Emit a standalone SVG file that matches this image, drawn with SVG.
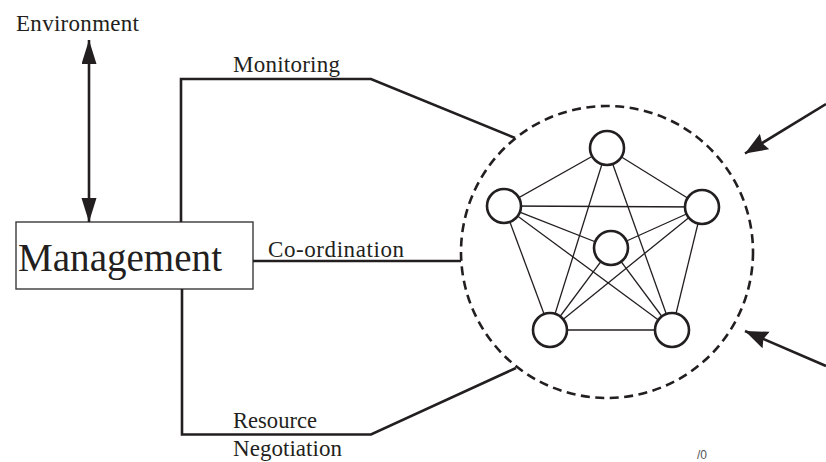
<svg xmlns="http://www.w3.org/2000/svg" width="826" height="462" viewBox="0 0 826 462">
  <style>
    .lbl { font-family: "Liberation Serif", "Times New Roman", serif; fill: #231f20; }
    .conn { fill: none; stroke: #231f20; stroke-width: 2.6; }
    .edge { stroke: #231f20; stroke-width: 1.3; }
    .node { fill: #ffffff; stroke: #231f20; stroke-width: 2.6; }
  </style>
  <defs>
    <marker id="ah" markerUnits="userSpaceOnUse" markerWidth="26" markerHeight="16" refX="24" refY="7.5" orient="auto-start-reverse">
      <path d="M0,0 L24,7.5 L0,15 Z" fill="#231f20"/>
    </marker>
    <marker id="ah2" markerUnits="userSpaceOnUse" markerWidth="26" markerHeight="20" refX="23" refY="9" orient="auto">
      <path d="M0,0 L23,9 L0,18 L3,9 Z" fill="#231f20"/>
    </marker>
  </defs>
  <rect width="826" height="462" fill="#ffffff"/>

  <g id="environment">
    <text class="lbl" x="16" y="30.5" font-size="23" textLength="123" lengthAdjust="spacing">Environment</text>
  </g>

  <g id="management">
    <rect x="16" y="222" width="237" height="67" fill="#ffffff" stroke="#3a3a3a" stroke-width="1.4"/>
    <text class="lbl" x="18" y="271" font-size="39" textLength="204" lengthAdjust="spacingAndGlyphs">Management</text>
  </g>

  <g id="connectors">
    <line class="conn" x1="89" y1="40" x2="89" y2="222" marker-start="url(#ah)" marker-end="url(#ah)"/>
    <path class="conn" d="M181,222 V79 H371 L515,138"/>
    <path class="conn" d="M253,261 H461"/>
    <path class="conn" d="M182,289 V434.5 H371 L516,368"/>
    <line class="conn" x1="826" y1="104" x2="745" y2="153.5" marker-end="url(#ah2)"/>
    <line class="conn" x1="826" y1="366" x2="745" y2="331" marker-end="url(#ah2)"/>
    <text class="lbl" x="233" y="71.5" font-size="23" textLength="107" lengthAdjust="spacing">Monitoring</text>
    <text class="lbl" x="268" y="256.5" font-size="23" textLength="136" lengthAdjust="spacing">Co-ordination</text>
    <text class="lbl" x="233" y="428" font-size="23" textLength="84" lengthAdjust="spacingAndGlyphs">Resource</text>
    <text class="lbl" x="233" y="456" font-size="23" textLength="109" lengthAdjust="spacing">Negotiation</text>
  </g>

  <g id="network">
    <circle cx="607" cy="252" r="146" fill="none" stroke="#231f20" stroke-width="2.6" stroke-dasharray="9 5.5"/>
    <g id="edges">
      <line class="edge" x1="607" y1="148" x2="504" y2="206"/>
      <line class="edge" x1="607" y1="148" x2="702" y2="207"/>
      <line class="edge" x1="607" y1="148" x2="550" y2="330"/>
      <line class="edge" x1="607" y1="148" x2="672" y2="330"/>
      <line class="edge" x1="504" y1="206" x2="702" y2="207"/>
      <line class="edge" x1="504" y1="206" x2="550" y2="330"/>
      <line class="edge" x1="504" y1="206" x2="672" y2="330"/>
      <line class="edge" x1="702" y1="207" x2="550" y2="330"/>
      <line class="edge" x1="702" y1="207" x2="672" y2="330"/>
      <line class="edge" x1="550" y1="330" x2="672" y2="330"/>
      <line class="edge" x1="611" y1="248" x2="504" y2="206"/>
      <line class="edge" x1="611" y1="248" x2="702" y2="207"/>
      <line class="edge" x1="611" y1="248" x2="550" y2="330"/>
      <line class="edge" x1="611" y1="248" x2="672" y2="330"/>
    </g>
    <g id="n-top"><circle class="node" cx="607" cy="148" r="17"/></g>
    <g id="n-left"><circle class="node" cx="504" cy="206" r="17"/></g>
    <g id="n-right"><circle class="node" cx="702" cy="207" r="17"/></g>
    <g id="n-center"><circle class="node" cx="611" cy="248" r="17"/></g>
    <g id="n-bl"><circle class="node" cx="550" cy="330" r="17"/></g>
    <g id="n-br"><circle class="node" cx="672" cy="330" r="17"/></g>
  </g>

  <g id="page-number">
    <text x="697" y="459" font-family="Liberation Sans, Arial, sans-serif" font-size="12" fill="#555555">/0</text>
  </g>
</svg>
